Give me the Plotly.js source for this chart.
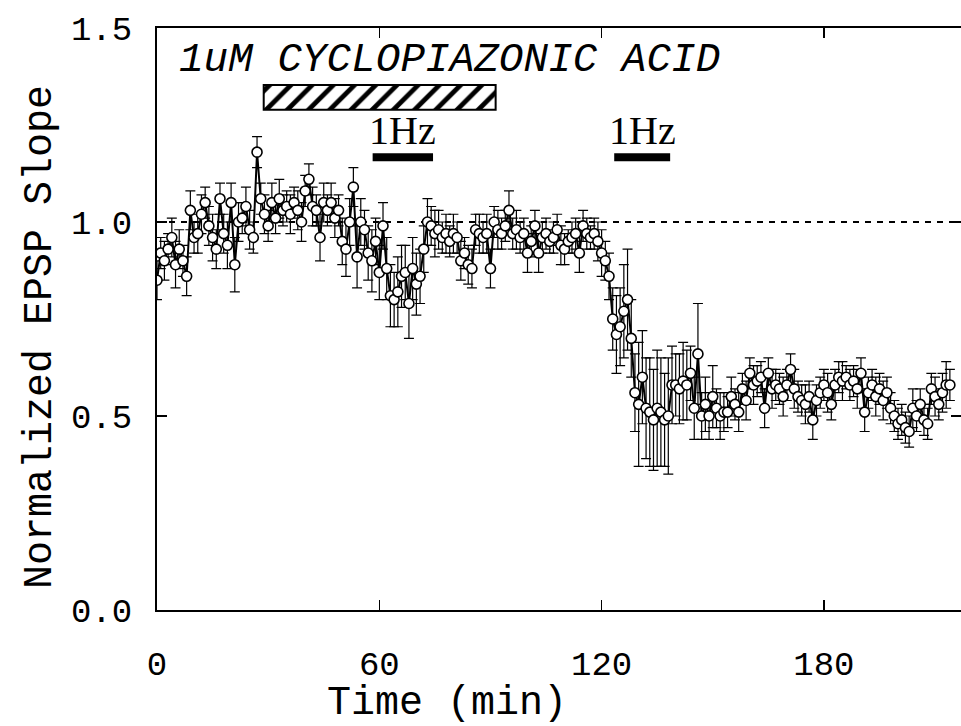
<!DOCTYPE html>
<html>
<head>
<meta charset="utf-8">
<script src="https://cdn.plot.ly/plotly-3.0.1.min.js"></script>
<style>
  html, body { margin: 0; padding: 0; background: #ffffff; }
  #chart { width: 961px; height: 726px; }
</style>
</head>
<body>
<div id="chart"></div>
<script>
// ---- Data ----
// Samples are one per minute starting at t = 0 min
const sampleStart = 0;
const sampleStep = 1;

const epspSlope = [
  0.85, 0.92, 0.90, 0.93, 0.96, 0.89, 0.93, 0.90, 0.86, 1.03,
  0.96, 0.97, 1.02, 1.05, 0.99, 0.96, 0.93, 1.06, 0.97, 0.94,
  1.05, 0.89, 1.00, 1.01, 1.04, 0.98, 0.96, 1.18, 1.06, 1.02,
  0.99, 1.05, 1.01, 1.06, 1.03, 1.04, 1.02, 1.05, 1.03, 1.00,
  1.08, 1.11, 1.04, 1.03, 0.96, 1.05, 1.03, 1.05, 1.01, 1.03,
  0.95, 0.93, 1.00, 1.09, 0.91, 1.00, 0.98, 0.92, 0.90, 0.95,
  0.87, 0.99, 0.88, 0.81, 0.80, 0.82, 0.86, 0.87, 0.79, 0.88,
  0.84, 0.86, 0.93, 1.00, 0.99, 0.97, 0.98, 0.96, 0.97, 0.95,
  0.97, 0.96, 0.90, 0.92, 0.89, 0.88, 0.98, 0.97, 0.96, 0.97,
  0.88, 1.00, 0.98, 0.97, 0.99, 1.03, 0.97, 0.98, 0.96, 0.97,
  0.92, 0.95, 0.99, 0.92, 0.96, 0.97, 0.95, 0.96, 0.98, 0.94,
  0.93, 0.95, 0.96, 0.97, 0.92, 0.99, 0.97, 0.96, 0.97, 0.95,
  0.92, 0.90, 0.86, 0.75, 0.71, 0.73, 0.77, 0.80, 0.70, 0.56,
  0.53, 0.60, 0.52, 0.51, 0.49, 0.52, 0.51, 0.49, 0.50, 0.58,
  0.58, 0.57, 0.59, 0.58, 0.61, 0.52, 0.66, 0.50, 0.53, 0.50,
  0.55, 0.52, 0.50, 0.51, 0.51, 0.55, 0.53, 0.51, 0.57, 0.54,
  0.61, 0.58, 0.59, 0.60, 0.52, 0.61, 0.57, 0.58, 0.57, 0.55,
  0.58, 0.62, 0.57, 0.55, 0.54, 0.53, 0.55, 0.49, 0.54, 0.56,
  0.58, 0.56, 0.53, 0.58, 0.60, 0.59, 0.60, 0.58, 0.59, 0.57,
  0.61, 0.51, 0.56, 0.58, 0.55, 0.57, 0.54, 0.56, 0.52, 0.50,
  0.48, 0.49, 0.47, 0.46, 0.52, 0.50, 0.53, 0.49, 0.48, 0.57,
  0.55, 0.53, 0.56, 0.58, 0.58
];

const epspSem = [
  0.05, 0.04, 0.05, 0.04, 0.05, 0.06, 0.05, 0.04, 0.05, 0.05,
  0.04, 0.05, 0.05, 0.04, 0.05, 0.06, 0.05, 0.04, 0.05, 0.06,
  0.05, 0.07, 0.05, 0.04, 0.05, 0.05, 0.04, 0.04, 0.04, 0.05,
  0.04, 0.05, 0.04, 0.05, 0.04, 0.04, 0.05, 0.04, 0.05, 0.05,
  0.04, 0.04, 0.05, 0.04, 0.06, 0.05, 0.04, 0.05, 0.05, 0.04,
  0.06, 0.07, 0.06, 0.05, 0.08, 0.06, 0.05, 0.07, 0.08, 0.06,
  0.07, 0.06, 0.08, 0.08, 0.07, 0.09, 0.08, 0.07, 0.09, 0.08,
  0.08, 0.07, 0.06, 0.06, 0.05, 0.06, 0.05, 0.04, 0.05, 0.04,
  0.05, 0.04, 0.05, 0.04, 0.05, 0.05, 0.04, 0.05, 0.04, 0.05,
  0.05, 0.04, 0.05, 0.04, 0.04, 0.05, 0.04, 0.05, 0.04, 0.04,
  0.05, 0.04, 0.04, 0.05, 0.04, 0.04, 0.03, 0.04, 0.04, 0.05,
  0.04, 0.03, 0.04, 0.04, 0.05, 0.04, 0.04, 0.03, 0.04, 0.05,
  0.06, 0.05, 0.06, 0.08, 0.10, 0.10, 0.12, 0.13, 0.10, 0.10,
  0.16, 0.12, 0.13, 0.14, 0.13, 0.15, 0.14, 0.12, 0.15, 0.10,
  0.08, 0.09, 0.10, 0.09, 0.07, 0.08, 0.13, 0.06, 0.07, 0.06,
  0.08, 0.05, 0.06, 0.05, 0.04, 0.05, 0.04, 0.05, 0.04, 0.05,
  0.04, 0.05, 0.04, 0.04, 0.05, 0.04, 0.05, 0.04, 0.04, 0.05,
  0.04, 0.04, 0.05, 0.04, 0.04, 0.05, 0.04, 0.05, 0.04, 0.04,
  0.04, 0.05, 0.04, 0.04, 0.04, 0.05, 0.03, 0.04, 0.04, 0.05,
  0.04, 0.05, 0.04, 0.04, 0.05, 0.04, 0.05, 0.04, 0.04, 0.04,
  0.04, 0.04, 0.04, 0.04, 0.05, 0.04, 0.04, 0.04, 0.04, 0.04,
  0.05, 0.04, 0.05, 0.06, 0.04
];

const xTickVals = [0, 60, 120, 180];
const xTickText = ['0', '60', '120', '180'];
const yTickVals = [0.0, 0.5, 1.0, 1.5];
const yTickText = ['0.0', '0.5', '1.0', '1.5'];

const xTitle = 'Time (min)';
const yTitle = 'Normalized EPSP Slope';

const baselineLevel = 1.0;

// Drug application (hatched bar)
const drugLabel = '1uM CYCLOPIAZONIC ACID';
const drugStart = 28.8;
const drugEnd = 91.4;
const drugBarLevel = 1.321;

// 1 Hz stimulation periods
const hzLabels = ['1Hz', '1Hz'];
const hzStarts = [58.2, 123.4];
const hzEnds = [74.5, 138.5];
const hzBarLevel = 1.167;
const hzLabelLevel = 1.235;

// ---- Traces ----
const FONT = '"Liberation Mono", "Courier New", monospace';

const traces = [];

// data with error bars
traces.push({
  type: 'scatter',
  mode: 'lines+markers',
  x0: sampleStart,
  dx: sampleStep,
  y: epspSlope,
  error_y: { type: 'data', array: epspSem, visible: true, color: '#000', thickness: 1.2, width: 5 },
  line: { color: '#000', width: 2 },
  marker: { symbol: 'circle', size: 10, color: '#fff', line: { color: '#000', width: 1.6 } },
  hoverinfo: 'x+y',
  showlegend: false
});

// hatched drug bar
traces.push({
  type: 'bar',
  orientation: 'h',
  y: [drugBarLevel],
  x: [drugEnd - drugStart],
  base: [drugStart],
  width: 0.064,
  marker: {
    color: '#fff',
    line: { color: '#000', width: 2 },
    pattern: { shape: '/', fgcolor: '#000', bgcolor: '#fff', size: 15, solidity: 0.32 }
  },
  hoverinfo: 'skip',
  showlegend: false
});

// 1 Hz bars
for (let i = 0; i < hzStarts.length; i++) {
  traces.push({
    type: 'scatter',
    mode: 'lines',
    x: [hzStarts[i], hzEnds[i]],
    y: [hzBarLevel, hzBarLevel],
    line: { color: '#000', width: 8 },
    hoverinfo: 'skip',
    showlegend: false
  });
}

// right-side inward ticks (no line)
traces.push({
  type: 'scatter', mode: 'markers', x: [null], y: [null],
  yaxis: 'y2', showlegend: false, hoverinfo: 'skip'
});

const annotations = [
  {
    x: 5.5, y: 1.417, xref: 'x', yref: 'y', xanchor: 'left', yanchor: 'middle',
    text: '<i>' + drugLabel + '</i>', showarrow: false,
    font: { family: FONT, size: 41, color: '#000' }
  },
  {
    x: 0.3607, y: -0.1615, xref: 'paper', yref: 'paper', xanchor: 'center', yanchor: 'middle',
    text: xTitle, showarrow: false,
    font: { family: FONT, size: 40, color: '#000' }
  },
  {
    x: -0.1455, y: 0.469, xref: 'paper', yref: 'paper', xanchor: 'center', yanchor: 'middle',
    text: yTitle, showarrow: false, textangle: -90,
    font: { family: FONT, size: 40, color: '#000' }
  }
];
for (let i = 0; i < hzLabels.length; i++) {
  annotations.push({
    x: (hzStarts[i] + hzEnds[i]) / 2, y: hzLabelLevel, xref: 'x', yref: 'y',
    xanchor: 'center', yanchor: 'middle', text: hzLabels[i], showarrow: false,
    font: { family: '"Liberation Serif", serif', size: 40, color: '#000' }
  });
}

const layout = {
  width: 961,
  height: 726,
  margin: { l: 157, r: 0, t: 28, b: 116, pad: 0 },
  paper_bgcolor: '#fff',
  plot_bgcolor: '#fff',
  font: { family: FONT, size: 34, color: '#000' },
  showlegend: false,
  bargap: 0,
  xaxis: {
    range: [0, 217],
    tickvals: xTickVals,
    ticktext: xTickText,
    ticks: 'inside',
    ticklen: 10,
    tickwidth: 1.5,
    tickcolor: '#000',
    showline: true,
    linecolor: '#000',
    linewidth: 2,
    mirror: 'ticks',
    showgrid: false,
    zeroline: false,
    ticklabelstandoff: 22,
    tickfont: { family: FONT, size: 34, color: '#000' }
  },
  yaxis: {
    range: [0, 1.5],
    tickvals: yTickVals,
    ticktext: yTickText,
    ticks: 'inside',
    ticklen: 10,
    tickwidth: 1.5,
    tickcolor: '#000',
    showline: true,
    linecolor: '#000',
    linewidth: 2,
    mirror: false,
    showgrid: false,
    zeroline: false,
    ticklabelstandoff: 16,
    tickfont: { family: FONT, size: 34, color: '#000' }
  },
  yaxis2: {
    overlaying: 'y',
    side: 'right',
    range: [0, 1.5],
    tickvals: yTickVals,
    ticks: 'inside',
    ticklen: 10,
    tickwidth: 1.5,
    tickcolor: '#000',
    showticklabels: false,
    showline: false,
    showgrid: false,
    zeroline: false
  },
  shapes: [
    {
      type: 'line', xref: 'paper', yref: 'y', x0: 0, x1: 1, y0: baselineLevel, y1: baselineLevel,
      line: { color: '#000', width: 2, dash: '6px,6px' }, layer: 'below'
    }
  ],
  annotations: annotations
};

Plotly.newPlot('chart', traces, layout, { displayModeBar: false, staticPlot: true });
</script>
</body>
</html>
